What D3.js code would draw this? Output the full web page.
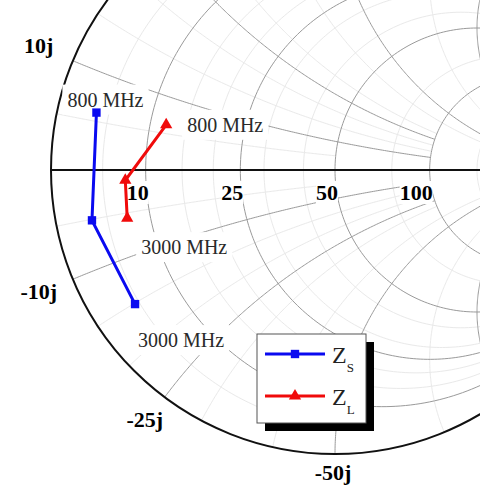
<!DOCTYPE html>
<html>
<head>
<meta charset="utf-8">
<script src="https://cdn.jsdelivr.net/npm/d3@7"></script>
<style>
  body { margin: 0; background: #fff; }
  svg { display: block; font-family: "Liberation Serif", "Times New Roman", serif; }
</style>
</head>
<body>
<script>
// reference impedance and grid values (normalized)
var Z0 = 50;
var majorValues = [0.2, 0.5, 1, 2, 5];
var majorLimits = [2, 2, 5, 5, 30];
var minorValues = [0.1, 0.3, 0.4, 0.6, 0.8, 1.5, 3, 4];
var minorLimits = [1, 2, 2, 2, 5, 5, 5, 30];

// tick labels (ohms)
var resLabels = ["10", "25", "50", "100", "250"];
var reacLabels = ["10j", "25j", "50j", "100j", "250j"];

// data: impedances in ohms
var zsR = [3.7, 3.4, 4.5];
var zsX = [5.9, -5.1, -15.1];
var zlR = [12.1, 7.5, 7.2];
var zlX = [6.2, -1.2, -5.6];
var freqText = ["800 MHz", "3000 MHz"];

var width = 480, height = 493;
var cx = 335, cy = 170, R = 284;

var svg = d3.select("body").append("svg")
  .attr("width", width)
  .attr("height", height);

var gx = d3.scaleLinear().domain([-1, 1]).range([cx - R, cx + R]);
var gy = d3.scaleLinear().domain([-1, 1]).range([cy + R, cy - R]);

function gamma(r, x) {
  var den = (r + 1) * (r + 1) + x * x;
  return [(r * r - 1 + x * x) / den, 2 * x / den];
}

var line = d3.line().x(function(d) { return gx(d[0]); }).y(function(d) { return gy(d[1]); });

// resistance circle r, drawn for |x| <= lim
function resArc(r, lim) {
  var c = r / (1 + r), rho = 1 / (1 + r);
  var e = gamma(r, lim);
  var a0 = Math.atan2(e[1], e[0] - c);
  var pts = d3.range(0, 201).map(function(i) {
    var a = a0 + (2 * Math.PI - 2 * a0) * i / 200;
    return [c + rho * Math.cos(a), rho * Math.sin(a)];
  });
  return line(pts);
}

// reactance arc x, drawn for 0 <= r <= lim
function reacArc(x, lim) {
  var ccx = 1, ccy = 1 / x, rho = Math.abs(1 / x);
  var p0 = gamma(0, x), p1 = gamma(lim, x);
  var a0 = Math.atan2(p0[1] - ccy, p0[0] - ccx);
  var a1 = Math.atan2(p1[1] - ccy, p1[0] - ccx);
  var d = a1 - a0;
  while (d > Math.PI) d -= 2 * Math.PI;
  while (d < -Math.PI) d += 2 * Math.PI;
  var pts = d3.range(0, 201).map(function(i) {
    var a = a0 + d * i / 200;
    return [ccx + rho * Math.cos(a), ccy + rho * Math.sin(a)];
  });
  return line(pts);
}

var grid = svg.append("g").attr("fill", "none");

// minor grid
minorValues.forEach(function(v, i) {
  grid.append("path").attr("d", resArc(v, minorLimits[i]))
    .attr("stroke", "#e9e9e9").attr("stroke-width", 1);
  [v, -v].forEach(function(x) {
    grid.append("path").attr("d", reacArc(x, minorLimits[i]))
      .attr("stroke", "#e9e9e9").attr("stroke-width", 1);
  });
});

// major grid
majorValues.forEach(function(v, i) {
  grid.append("path").attr("d", resArc(v, majorLimits[i]))
    .attr("stroke", "#9a9a9a").attr("stroke-width", 1);
  [v, -v].forEach(function(x) {
    grid.append("path").attr("d", reacArc(x, majorLimits[i]))
      .attr("stroke", "#9a9a9a").attr("stroke-width", 1);
  });
});

// outer circle + real axis
svg.append("circle")
  .attr("cx", gx(0)).attr("cy", gy(0)).attr("r", gx(1) - gx(0))
  .attr("fill", "none").attr("stroke", "#111").attr("stroke-width", 2);
svg.append("line")
  .attr("x1", gx(-1)).attr("x2", gx(1)).attr("y1", gy(0)).attr("y2", gy(0))
  .attr("stroke", "#111").attr("stroke-width", 2);

// drop labels that fall outside the visible area
function fits(t) {
  var b = t.node().getBBox();
  if (b.x < 0 || b.y < 0 || b.x + b.width > width || b.y + b.height > height) {
    t.remove();
    return null;
  }
  return b;
}

// text with white box behind it
function boxedText(g, x, y, txt, opts) {
  var t = g.append("text")
    .attr("x", x).attr("y", y)
    .attr("text-anchor", opts.anchor || "middle")
    .attr("font-size", opts.size)
    .attr("font-weight", opts.weight || "normal")
    .attr("fill", opts.color || "#111")
    .text(txt);
  var b = fits(t);
  if (!b) return;
  var p = opts.pad || 0;
  g.insert("rect", function() { return t.node(); })
    .attr("x", b.x - p).attr("y", b.y - p + 1)
    .attr("width", b.width + 2 * p).attr("height", b.height + 2 * p - 2)
    .attr("fill", "#fff");
}

var labels = svg.append("g");

// resistance tick labels, right-aligned at the crossing
majorValues.forEach(function(v, i) {
  var p = gamma(v, 0);
  boxedText(labels, gx(p[0]) + 3, gy(0) + 30, resLabels[i],
    { anchor: "end", size: 22, weight: "bold", color: "#000" });
});

// reactance tick labels, outside the rim
majorValues.forEach(function(v, i) {
  [1, -1].forEach(function(s) {
    var p = gamma(0, s * v);
    var ang = Math.atan2(p[1], p[0]);
    var off = 20 + 16 * Math.abs(Math.cos(ang));
    var lx = gx(0) + (R + off) * Math.cos(ang);
    var ly = gy(0) - (R + off) * Math.sin(ang);
    var t = labels.append("text")
      .attr("x", lx - 2).attr("y", ly + 6)
      .attr("text-anchor", "middle")
      .attr("font-size", 22).attr("font-weight", "bold")
      .attr("fill", "#000")
      .text((s < 0 ? "-" : "") + reacLabels[i]);
    fits(t);
  });
});

// series
var series = [
  { r: zsR, x: zsX, color: "#0a0af0", marker: d3.symbolSquare, size: 70,
    offs: [[9, -6], [46, 43]] },
  { r: zlR, x: zlX, color: "#f00a0a", marker: d3.symbolTriangle, size: 65,
    offs: [[59, 7], [57, 36]] }
];

var dataG = svg.append("g");
series.forEach(function(s) {
  var pts = s.r.map(function(rv, i) { return gamma(rv / Z0, s.x[i] / Z0); });
  // frequency annotations at first and last point
  [0, pts.length - 1].forEach(function(k, j) {
    boxedText(labels, gx(pts[k][0]) + s.offs[j][0], gy(pts[k][1]) + s.offs[j][1],
      freqText[j], { size: 20, color: "#2a2a2a", pad: 5 });
  });
  dataG.append("path")
    .attr("d", line(pts))
    .attr("fill", "none").attr("stroke", s.color).attr("stroke-width", 3);
  dataG.selectAll(null).data(pts).enter().append("path")
    .attr("transform", function(d) { return "translate(" + gx(d[0]) + "," + gy(d[1]) + ")"; })
    .attr("d", d3.symbol().type(s.marker).size(s.size))
    .attr("fill", s.color);
});

// legend with drop shadow
var lg = svg.append("g").attr("transform", "translate(257,334)");
lg.append("rect").attr("x", 8).attr("y", 8).attr("width", 109).attr("height", 89).attr("fill", "#000");
lg.append("rect").attr("width", 109).attr("height", 89)
  .attr("fill", "#fff").attr("stroke", "#555").attr("stroke-width", 1);
var legendNames = ["S", "L"];
series.forEach(function(s, i) {
  var yy = 20 + i * 42;
  lg.append("line").attr("x1", 8).attr("x2", 68).attr("y1", yy).attr("y2", yy)
    .attr("stroke", s.color).attr("stroke-width", 3);
  lg.append("path").attr("transform", "translate(38," + yy + ")")
    .attr("d", d3.symbol().type(s.marker).size(s.size)).attr("fill", s.color);
  var t = lg.append("text").attr("x", 75).attr("y", yy + 9)
    .attr("font-size", 24).attr("fill", "#222");
  t.append("tspan").text("Z");
  t.append("tspan").attr("font-size", 13).attr("dy", 9).text(legendNames[i]);
});
</script>
</body>
</html>
